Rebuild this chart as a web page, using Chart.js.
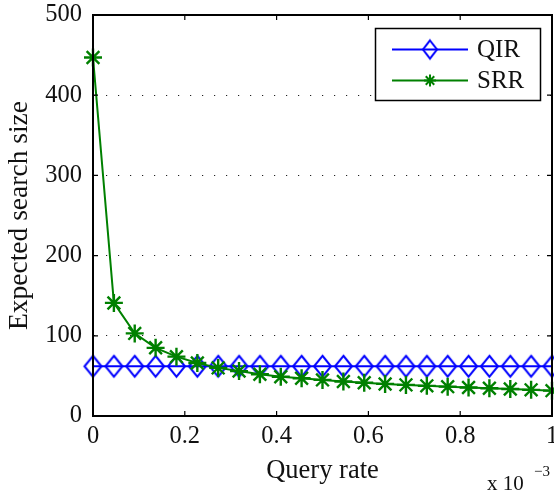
<!DOCTYPE html>
<html>
<head>
<meta charset="utf-8">
<script src="https://cdn.jsdelivr.net/npm/chart.js@4"></script>
<style>
  html, body { margin: 0; padding: 0; background: #fff; }
  #wrap { width: 554px; height: 492px; }
</style>
</head>
<body>
<div id="wrap"><canvas id="c" width="554" height="492"></canvas></div>
<script>
// Query rate (x 10^-3)
const queryRate = [0, 0.0455, 0.0909, 0.1364, 0.1818, 0.2273, 0.2727, 0.3182, 0.3636, 0.4091, 0.4545, 0.5,
  0.5455, 0.5909, 0.6364, 0.6818, 0.7273, 0.7727, 0.8182, 0.8636, 0.9091, 0.9545, 1];
const qirValues = [62, 62, 62, 62, 62, 62, 62, 62, 62, 62, 62, 62, 62, 62, 62, 62, 62, 62, 62, 62, 62, 62, 62];
const srrValues = [447, 141, 103, 85, 74, 66, 60, 56, 52, 49, 47, 45, 43, 41.5, 40, 38.8, 37.6, 36.6, 35.6, 34.6, 33.6, 32.6, 31.6];
const seriesNames = ['QIR', 'SRR'];
const xTicks = [0, 0.2, 0.4, 0.6, 0.8, 1];
const yTicks = [0, 100, 200, 300, 400, 500];
const xTitle = 'Query rate';
const yTitle = 'Expected search size';

const BLUE = '#0000ff';
const GREEN = '#008000';
const FONT = '"Liberation Serif", "Times New Roman", serif';

function makeDiamond(w, h, color, lw) {
  const c = document.createElement('canvas');
  c.width = w + lw * 2 + 2;
  c.height = h + lw * 2 + 2;
  const g = c.getContext('2d');
  const cx = c.width / 2, cy = c.height / 2;
  g.strokeStyle = color;
  g.lineWidth = lw;
  g.lineJoin = 'miter';
  g.beginPath();
  g.moveTo(cx, cy - h / 2);
  g.lineTo(cx + w / 2, cy);
  g.lineTo(cx, cy + h / 2);
  g.lineTo(cx - w / 2, cy);
  g.closePath();
  g.stroke();
  return c;
}
const diamond = makeDiamond(17, 21, BLUE, 2);
const diamondSmall = makeDiamond(14, 18, BLUE, 2);

const frame = {
  id: 'frame',
  afterDatasetsDraw(chart) {
    const ctx = chart.ctx;
    const a = chart.chartArea;
    const xs = chart.scales.x, ys = chart.scales.y;
    ctx.save();
    ctx.strokeStyle = '#000';
    ctx.lineWidth = 2;
    ctx.strokeRect(a.left, a.top, a.right - a.left, a.bottom - a.top);
    ctx.lineWidth = 1.2;
    ctx.beginPath();
    xTicks.forEach(v => {
      const px = xs.getPixelForValue(v);
      ctx.moveTo(px, a.bottom); ctx.lineTo(px, a.bottom - 5);
      ctx.moveTo(px, a.top); ctx.lineTo(px, a.top + 5);
    });
    yTicks.forEach(v => {
      const py = ys.getPixelForValue(v);
      ctx.moveTo(a.left, py); ctx.lineTo(a.left + 5, py);
      ctx.moveTo(a.right, py); ctx.lineTo(a.right - 5, py);
    });
    ctx.stroke();

    // legend
    const lx = 375.5, ly = 28.5, lw = 165, lh = 72;
    ctx.fillStyle = '#fff';
    ctx.fillRect(lx, ly, lw, lh);
    ctx.lineWidth = 1.5;
    ctx.strokeStyle = '#000';
    ctx.strokeRect(lx, ly, lw, lh);
    const rows = [
      { name: seriesNames[0], y: 49.5, color: BLUE },
      { name: seriesNames[1], y: 80.5, color: GREEN }
    ];
    rows.forEach((r, i) => {
      ctx.strokeStyle = r.color;
      ctx.lineWidth = 2;
      ctx.beginPath();
      ctx.moveTo(392, r.y); ctx.lineTo(468, r.y);
      ctx.stroke();
      if (i === 0) {
        ctx.drawImage(diamondSmall, 430 - diamondSmall.width / 2, r.y - diamondSmall.height / 2);
      } else {
        Chart.helpers.drawPoint(ctx, { pointStyle: 'star', radius: 6, borderWidth: 2, rotation: 0 }, 430, r.y);
      }
      ctx.fillStyle = '#111';
      ctx.font = '25px ' + FONT;
      ctx.textBaseline = 'middle';
      ctx.textAlign = 'left';
      ctx.fillText(r.name, 477, r.y + 1);
    });

    // exponent label
    ctx.fillStyle = '#111';
    ctx.textBaseline = 'alphabetic';
    ctx.textAlign = 'left';
    ctx.font = '21px ' + FONT;
    ctx.fillText('x 10', 487, 490);
    ctx.font = '15px ' + FONT;
    ctx.fillText('\u22123', 534, 476);
    ctx.restore();
  }
};

new Chart(document.getElementById('c'), {
  type: 'line',
  data: {
    datasets: [
      {
        label: seriesNames[0],
        data: queryRate.map((x, i) => ({ x: x, y: qirValues[i] })),
        borderColor: BLUE,
        backgroundColor: BLUE,
        borderWidth: 2,
        pointStyle: diamond,
        pointRadius: 10,
        tension: 0,
        clip: false,
        order: 2
      },
      {
        label: seriesNames[1],
        data: queryRate.map((x, i) => ({ x: x, y: srrValues[i] })),
        borderColor: GREEN,
        backgroundColor: GREEN,
        borderWidth: 2,
        pointStyle: 'star',
        pointRadius: 9,
        pointBorderWidth: 2.4,
        pointBorderColor: GREEN,
        tension: 0,
        clip: false,
        order: 1
      }
    ]
  },
  plugins: [frame],
  options: {
    responsive: false,
    devicePixelRatio: 1,
    animation: false,
    events: [],
    layout: { autoPadding: false, padding: { top: 15, right: 2, left: 0, bottom: 0 } },
    plugins: { legend: { display: false }, tooltip: { enabled: false } },
    scales: {
      x: {
        type: 'linear',
        min: 0, max: 1,
        afterFit(s) { s.height = 76; s.paddingLeft = 0; s.paddingRight = 0; },
        afterBuildTicks(s) { s.ticks = xTicks.map(v => ({ value: v })); },
        ticks: { font: { family: FONT, size: 24.5 }, color: '#111', padding: 6, maxRotation: 0,
                 callback: v => String(v) },
        grid: { display: false, drawTicks: false },
        border: { display: false },
        title: { display: true, text: xTitle, font: { family: FONT, size: 26.5 }, color: '#111', padding: { top: 0, bottom: 5 } }
      },
      y: {
        type: 'linear',
        min: 0, max: 500,
        afterFit(s) { s.width = 93; s.paddingTop = 0; s.paddingBottom = 0; },
        afterBuildTicks(s) { s.ticks = yTicks.map(v => ({ value: v })); },
        ticks: { font: { family: FONT, size: 24.5 }, color: '#111', padding: 11, callback: v => String(v) },
        grid: { display: true, drawTicks: false, color: '#222', lineWidth: 1 },
        border: { display: false, dash: [1.2, 10.8], dashOffset: -1 },
        title: { display: true, text: yTitle, font: { family: FONT, size: 27.5 }, color: '#111', padding: { top: 3, bottom: 0 } }
      }
    }
  }
});
</script>
</body>
</html>
